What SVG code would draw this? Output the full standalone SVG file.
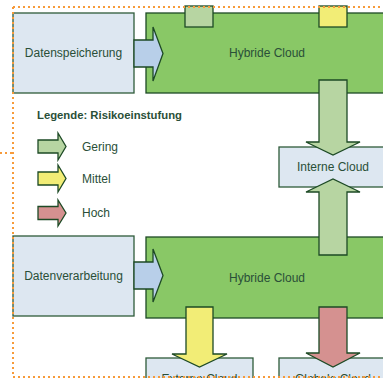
<svg xmlns="http://www.w3.org/2000/svg" width="383" height="378" viewBox="0 0 383 378">
<style>
.box{fill:#dde7f1;stroke:#2e5b3a;stroke-width:1.3}
.hyb{fill:#89c866;stroke:#1d4a25;stroke-width:1.3}
.t{font-family:"Liberation Sans",Arial,sans-serif;font-size:12px;fill:#2a4f38;text-anchor:middle;dominant-baseline:central}
.tl{font-family:"Liberation Sans",Arial,sans-serif;font-size:12px;fill:#2a4f38;dominant-baseline:central}
.arr{stroke:#1d4a25;stroke-width:1.3;stroke-linejoin:miter}
.g{fill:#b7d5a2}.y{fill:#f2ed76}.r{fill:#d59190}.b{fill:#b8cfe9}
.frame{fill:none;stroke:#f79a3a;stroke-width:2;stroke-dasharray:2 3}
</style>
<rect width="383" height="378" fill="#ffffff"/>
<g id="hybrid-top"><rect class="hyb" x="146" y="13" width="250" height="80"/><text class="t" x="267" y="53">Hybride Cloud</text></g>
<g id="hybrid-bottom"><rect class="hyb" x="146" y="237" width="250" height="81"/><text class="t" x="267" y="278">Hybride Cloud</text></g>
<g id="datenspeicherung"><rect class="box" x="13" y="13" width="121" height="80"/><text class="t" x="73.5" y="53">Datenspeicherung</text></g>
<g id="datenverarbeitung"><rect class="box" x="13" y="236" width="121" height="80"/><text class="t" x="73.5" y="276">Datenverarbeitung</text></g>
<g id="interne-cloud"><rect class="box" x="279" y="147" width="115" height="40"/><text class="t" x="333" y="167">Interne Cloud</text></g>
<g id="externe-cloud"><rect class="box" x="146" y="358" width="107" height="40"/><text class="t" x="199.5" y="379">Externe Cloud</text></g>
<g id="globale-cloud"><rect class="box" x="279" y="358" width="115" height="40"/><text class="t" x="333" y="379">Globale Cloud</text></g>
<g id="legend">
<text class="tl" x="37" y="115" font-weight="bold" style="font-size:11.3px">Legende: Risikoeinstufung</text>
<polygon class="arr g" points="38,140 58,140 58,133 66,146.5 58,160 58,153 38,153"/>
<text class="tl" x="82" y="147">Gering</text>
<polygon class="arr y" points="38,172 58,172 58,165 66,178.5 58,192 58,185 38,185"/>
<text class="tl" x="82" y="179">Mittel</text>
<polygon class="arr r" points="38,206.5 58,206.5 58,200 66,213 58,226 58,219.5 38,219.5"/>
<text class="tl" x="82" y="213">Hoch</text>
</g>
<g id="connectors">
<rect class="arr g" x="185" y="6" width="28" height="21"/>
<rect class="arr y" x="319" y="6" width="28" height="21"/>
<polygon class="arr b" points="134,40 153,40 153,27 163,53.5 153,81 153,67 134,67"/>
<polygon class="arr b" points="134,262 153,262 153,249 163,275.5 153,302 153,289 134,289"/>
<polygon class="arr g" points="319,80 347,80 347,142 360,142 333,155 306,142 319,142"/>
<polygon class="arr g" points="319,255 319,192 306,192 333,179 360,192 347,192 347,255"/>
<polygon class="arr y" points="186,307 213,307 213,354 227,354 199.5,367 172,354 186,354"/>
<polygon class="arr r" points="319,307 347,307 347,353 360,353 333,367 306,353 319,353"/>
</g>
<g id="frame">
<path class="frame" d="M13,7 H383 M13,7 V377 M13,377 H383 M0,153 H13"/>
</g>
</svg>
